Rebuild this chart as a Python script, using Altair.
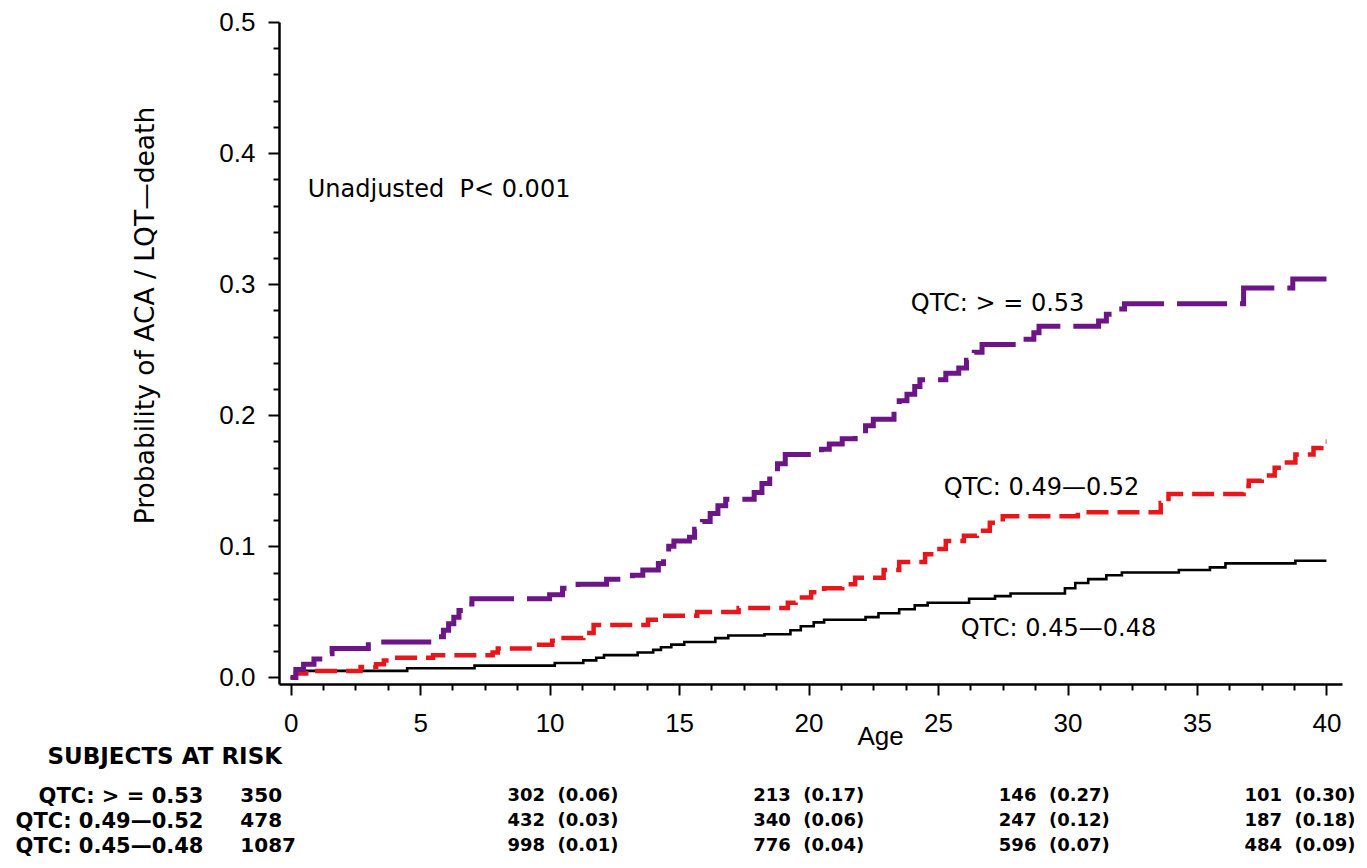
import altair as alt
import pandas as pd

# ---------------- data ----------------
# QTC >= 0.53 (purple, long dashes)
p53_age = [0, 0.2, 0.5, 0.9, 1.3, 1.6, 3.0, 5.7, 5.9, 6.1, 6.3, 6.5, 6.8, 7.0, 10.0, 10.5, 11.1, 12.2,
           13.2, 13.6, 14.2, 14.4, 14.6, 14.8, 15.4, 15.6, 15.9, 16.2, 16.5, 16.8, 17.9, 18.2, 18.5, 18.8,
           19.1, 20.5, 20.8, 21.3, 21.8, 22.2, 22.5, 23.3, 23.5, 23.8, 24.1, 24.3, 25.3, 25.8, 26.1, 26.4,
           26.7, 28.4, 28.7, 28.9, 31.2, 31.5, 31.9, 32.2, 36.8, 38.7, 40.0]
p53_val = [0, 0.006, 0.010, 0.014, 0.018, 0.022, 0.027, 0.031, 0.036, 0.041, 0.046, 0.051, 0.056, 0.060,
           0.063, 0.068, 0.071, 0.075, 0.078, 0.082, 0.087, 0.094, 0.100, 0.104, 0.107, 0.113, 0.119, 0.125,
           0.131, 0.136, 0.141, 0.148, 0.156, 0.163, 0.170, 0.174, 0.178, 0.182, 0.186, 0.192, 0.197, 0.206,
           0.211, 0.216, 0.222, 0.227, 0.232, 0.236, 0.242, 0.248, 0.254, 0.258, 0.263, 0.268, 0.272, 0.277,
           0.281, 0.285, 0.297, 0.304, 0.304]

# QTC 0.49-0.52 (red, short dashes)
p49_age = [0, 0.2, 0.6, 2.7, 3.3, 3.6, 4.0, 5.5, 7.8, 8.0, 9.4, 10.1, 10.4, 11.3, 11.7, 13.8, 14.1, 15.7,
           17.3, 19.2, 19.5, 20.1, 20.6, 21.3, 21.8, 22.9, 23.5, 24.5, 24.9, 25.3, 26.0, 26.5, 27.0, 27.5,
           30.4, 33.6, 33.9, 36.8, 37.0, 37.5, 38.0, 38.3, 38.8, 39.5, 39.8, 40.0]
p49_val = [0, 0.003, 0.005, 0.008, 0.010, 0.013, 0.015, 0.017, 0.019, 0.022, 0.025, 0.028, 0.030, 0.034,
           0.040, 0.044, 0.047, 0.050, 0.053, 0.057, 0.061, 0.065, 0.068, 0.071, 0.076, 0.082, 0.088, 0.094,
           0.098, 0.104, 0.108, 0.112, 0.118, 0.123, 0.126, 0.133, 0.140, 0.146, 0.150, 0.154, 0.160, 0.164,
           0.170, 0.175, 0.180, 0.180]

# QTC 0.45-0.48 (black, solid)
p45_age = [0, 0.2, 0.5, 4.5, 7.1, 10.2, 11.3, 11.8, 12.1, 13.4, 14.0, 14.3, 14.7, 15.2, 16.4, 16.9, 18.3,
           19.3, 19.7, 20.2, 20.6, 22.2, 22.7, 23.5, 24.1, 24.6, 26.2, 27.2, 27.8, 29.9, 30.3, 30.8, 31.5,
           32.1, 34.3, 35.5, 36.1, 38.8, 40.0]
p45_val = [0, 0.003, 0.005, 0.007, 0.009, 0.011, 0.013, 0.015, 0.017, 0.019, 0.021, 0.023, 0.025, 0.027,
           0.030, 0.032, 0.033, 0.036, 0.039, 0.042, 0.044, 0.046, 0.049, 0.052, 0.055, 0.057, 0.060, 0.062,
           0.064, 0.068, 0.072, 0.075, 0.078, 0.080, 0.082, 0.084, 0.087, 0.089, 0.089]

# curve labels / annotation (anchor in data units)
label_text = ["QTC: > = 0.53", "QTC: 0.49\u20140.52", "QTC: 0.45\u20140.48"]
label_age = [27.3, 29.0, 29.65]
label_p = [0.285, 0.1446, 0.0373]
note_text = ["Unadjusted\u00a0 P< 0.001"]
note_age = [0.66]
note_p = [0.372]

# subjects at risk table
risk_rows = ["QTC: > = 0.53", "QTC: 0.49\u20140.52", "QTC: 0.45\u20140.48"]
risk_ages = [0, 10, 20, 30, 40]
risk_n = [[350, 302, 213, 146, 101],
          [478, 432, 340, 247, 187],
          [1087, 998, 776, 596, 484]]
risk_p = [[None, 0.06, 0.17, 0.27, 0.30],
          [None, 0.03, 0.06, 0.12, 0.18],
          [None, 0.01, 0.04, 0.07, 0.09]]

# tick values
x_major = [0, 5, 10, 15, 20, 25, 30, 35, 40]
x_minor = [1.25, 2.5, 3.75, 6.25, 7.5, 8.75, 11.25, 12.5, 13.75, 16.25, 17.5, 18.75,
           21.25, 22.5, 23.75, 26.25, 27.5, 28.75, 31.25, 32.5, 33.75, 36.25, 37.5, 38.75]
y_major = [0, 0.1, 0.2, 0.3, 0.4, 0.5]
y_minor = [0.02, 0.04, 0.06, 0.08, 0.12, 0.14, 0.16, 0.18, 0.22, 0.24, 0.26, 0.28,
           0.32, 0.34, 0.36, 0.38, 0.42, 0.44, 0.46, 0.48]

# ---------------- frames ----------------
df53 = pd.DataFrame({"age": p53_age, "p": p53_val})
df49 = pd.DataFrame({"age": p49_age, "p": p49_val})
df45 = pd.DataFrame({"age": p45_age, "p": p45_val})
dflab = pd.DataFrame({"age": label_age, "p": label_p, "txt": label_text})
dfnote = pd.DataFrame({"age": note_age, "p": note_p, "txt": note_text})

recs0, recs = [], []
for r, row in enumerate(risk_rows):
    for c, a in enumerate(risk_ages):
        if c == 0:
            recs0.append({"age": a, "row": row, "txt": str(risk_n[r][c])})
        else:
            recs.append({"age": a, "row": row,
                         "txt": f"{risk_n[r][c]}\u00a0\u00a0({risk_p[r][c]:.2f})"})
dfrisk0 = pd.DataFrame(recs0)
dfrisk = pd.DataFrame(recs)

# ---------------- styling ----------------
FT = "Liberation Sans"
FA = "DejaVu Sans"
XDOM = [-0.45, 40.6]
YDOM = [-0.005, 0.5]


def xs():
    return alt.Scale(domain=XDOM, nice=False, zero=False)


def ys():
    return alt.Scale(domain=YDOM, nice=False, zero=False)


ax_x_major = alt.Axis(values=x_major, orient="bottom", format="d", tickSize=11, tickWidth=2,
                      tickColor="black", domainWidth=2.5, domainColor="black", grid=False,
                      labelFont=FT, labelFontSize=26, labelColor="black", labelPadding=15,
                      labelFlush=False, labelOverlap=False,
                      title="Age", titleFont=FT, titleFontSize=26, titleFontWeight="normal",
                      titleColor="black", titleX=601, titleY=52, titleAlign="center",
                      titleBaseline="middle", titleAngle=0)
ax_y_major = alt.Axis(values=y_major, orient="left", format=".1f", tickSize=11, tickWidth=2,
                      tickColor="black", domainWidth=2.5, domainColor="black", grid=False,
                      labelFont=FT, labelFontSize=26, labelColor="black", labelPadding=13,
                      labelOverlap=False, labelFlush=False,
                      title="Probability of ACA / LQT\u2014death", titleFont=FA, titleFontSize=26.5,
                      titleFontWeight="normal", titleColor="black", titleX=-134, titleY=293,
                      titleAngle=270, titleAlign="center", titleBaseline="middle")
ax_x_minor = alt.Axis(values=x_minor, orient="bottom", tickSize=6, tickWidth=2, tickColor="black",
                      labels=True, labelOpacity=0, labelFontSize=2, domain=False, grid=False,
                      title=None)
ax_y_minor = alt.Axis(values=y_minor, orient="left", tickSize=6, tickWidth=2, tickColor="black",
                      labels=True, labelOpacity=0, labelFontSize=2, domain=False, grid=False,
                      title=None)

# minor tick marks: own (identical) scale so its axes are kept separately
minor_layer = alt.Chart(df45).mark_line(opacity=0).encode(
    x=alt.X("age:Q", scale=xs(), axis=ax_x_minor),
    y=alt.Y("p:Q", scale=ys(), axis=ax_y_minor))


def enc_xy():
    return dict(x=alt.X("age:Q", scale=xs(), axis=ax_x_major),
                y=alt.Y("p:Q", scale=ys(), axis=ax_y_major))


black = alt.Chart(df45).mark_line(interpolate="step-after", color="black",
                                  strokeWidth=2.6).encode(**enc_xy())

red = alt.Chart(df49).mark_line(interpolate="step-after", color="#e8161b", strokeWidth=4.5,
                                strokeDash=[22, 9]).encode(**enc_xy())

purple = alt.Chart(df53).mark_line(interpolate="step-after", color="#6b1586", strokeWidth=5,
                                   strokeDash=[50, 13]).encode(**enc_xy())

labels = alt.Chart(dflab).mark_text(font=FA, fontSize=24, color="black", align="center",
                                    baseline="middle").encode(text="txt:N", **enc_xy())

note = alt.Chart(dfnote).mark_text(font=FA, fontSize=24, color="black", align="left",
                                   baseline="middle").encode(text="txt:N", **enc_xy())

plot = alt.layer(black, red, purple, labels, note)

# risk table (its own column scale, rows placed below the plot)
TXS = alt.Scale(domain=[-1.559, 41.71], nice=False, zero=False)
TYS = alt.Scale(type="point", domain=risk_rows, range=[774, 824], padding=0)
ax_rows = alt.Axis(orient="left", ticks=False, tickSize=0, domain=False, grid=False,
                   labelFont=FA, labelFontSize=21, labelFontWeight="bold", labelColor="black",
                   labelPadding=76, labelLimit=500, labelOverlap=False,
                   title="SUBJECTS AT RISK", titleFont=FA, titleFontSize=23, titleFontWeight="bold",
                   titleColor="black", titleAngle=0, titleX=-232, titleY=734, titleAlign="left",
                   titleBaseline="middle")

t0 = alt.Chart(dfrisk0).mark_text(font=FA, fontSize=20, fontWeight="bold", color="black",
                                  align="left", baseline="middle", dx=-77).encode(
    x=alt.X("age:Q", scale=TXS, axis=None),
    y=alt.Y("row:N", scale=TYS, axis=ax_rows, sort=risk_rows),
    text="txt:N")
t1 = alt.Chart(dfrisk).mark_text(font=FA, fontSize=18, fontWeight="bold", color="black",
                                 align="center", baseline="middle").encode(
    x=alt.X("age:Q", scale=TXS, axis=None),
    y=alt.Y("row:N", scale=TYS, axis=ax_rows, sort=risk_rows),
    text="txt:N")
table = alt.layer(t0, t1)

chart = alt.layer(minor_layer, plot, table).resolve_scale(x="independent", y="independent").properties(
    width=1063, height=662,
    autosize=alt.AutoSizeParams(type="none"),
    padding={"left": 271, "top": 14, "right": 17, "bottom": 176},
    background="white",
).configure_view(strokeWidth=0)

chart.save("out.html", embed_options={"renderer": "svg", "actions": False})
